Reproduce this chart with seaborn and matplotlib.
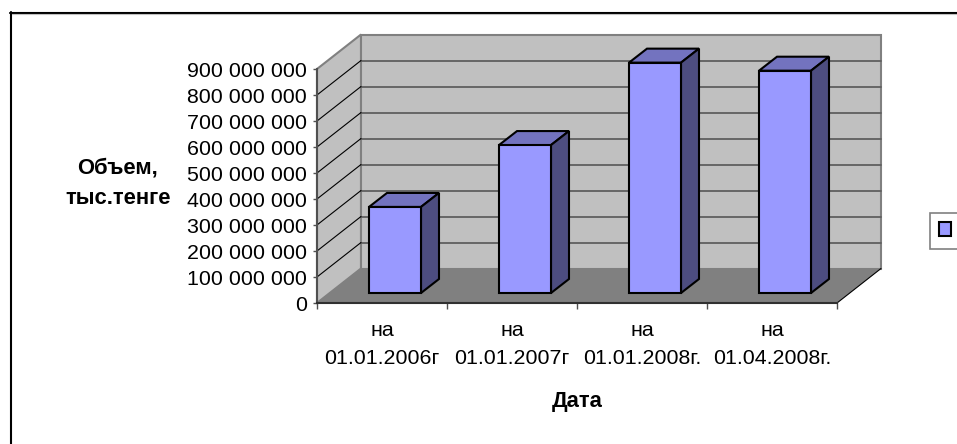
import matplotlib
matplotlib.use("Agg")
import matplotlib.pyplot as plt
import seaborn as sns
import pandas as pd
import numpy as np
from matplotlib.patches import Polygon, Patch, Rectangle
from matplotlib.lines import Line2D
from matplotlib.transforms import IdentityTransform

# ---- data ----
dates = ["на\n01.01.2006г", "на\n01.01.2007г", "на\n01.01.2008г.", "на\n01.04.2008г."]
volumes = [331e6, 569e6, 886e6, 855e6]
y_ticks = [0, 100e6, 200e6, 300e6, 400e6, 500e6, 600e6, 700e6, 800e6, 900e6]
y_tick_labels = ["0", "100 000 000", "200 000 000", "300 000 000", "400 000 000",
                 "500 000 000", "600 000 000", "700 000 000", "800 000 000", "900 000 000"]
y_title = "Объем,\nтыс.тенге"
x_title = "Дата"

# ---- style ----
W, H = 957, 444
FACE, SIDE, TOP = "#9999FF", "#4D4D80", "#7373BF"
WALL, FLOOR, EDGE, GRID = "#C0C0C0", "#808080", "#808080", "#5F5F5F"
WALL_D = np.array([44.0, 34.5])    # depth of the chart box, pixels
BAR_D = np.array([18.0, 14.0])     # depth of a bar, pixels
BAR_O = np.array([13.0, 10.0])     # bar offset from front plane, pixels

sns.set_theme(style="white")
plt.rcParams["font.family"] = ["Liberation Sans", "DejaVu Sans"]
FS = 15.4
FS_B = 15.8

fig = plt.figure(figsize=(W / 100, H / 100), dpi=100, facecolor="white")
L, R, T, B = 317, 837, 69, 303
ax = fig.add_axes([L / W, 1 - B / H, (R - L) / W, (B - T) / H])
ax.patch.set_visible(False)

df = pd.DataFrame({"date": dates, "volume": volumes})
sns.barplot(data=df, x="date", y="volume", color=FACE, saturation=1, width=0.4,
            edgecolor="black", linewidth=1.5, ax=ax, zorder=6)
ax.set_xlim(-0.5, len(dates) - 0.5)
ax.set_ylim(y_ticks[0], y_ticks[-1])
fig.canvas.draw()

ID = IdentityTransform()


def P(x, y, depth=(0, 0)):
    return ax.transData.transform((x, y)) + np.asarray(depth)


def poly(points, fc, ec="none", lw=0.0, z=1):
    ax.add_patch(Polygon(points, closed=True, fc=fc, ec=ec, lw=lw, transform=ID,
                         clip_on=False, zorder=z, joinstyle="miter"))


x0, x1 = ax.get_xlim()
ymin, ymax = ax.get_ylim()
bars = [p for p in ax.patches if isinstance(p, Rectangle)]

# side wall, back wall, floor
poly([P(x0, ymin), P(x0, ymax), P(x0, ymax, WALL_D), P(x0, ymin, WALL_D)], WALL, EDGE, 1.5, 1)
poly([P(x0, ymin, WALL_D), P(x0, ymax, WALL_D), P(x1, ymax, WALL_D), P(x1, ymin, WALL_D)], WALL, EDGE, 1.5, 1)
poly([P(x0, ymin), P(x0, ymin, WALL_D), P(x1, ymin, WALL_D), P(x1, ymin)], FLOOR, "none", 0, 2)
ax.add_line(Line2D(*zip(P(x1, ymin), P(x1, ymin, WALL_D)), color="black", lw=0.8, transform=ID,
                   clip_on=False, zorder=3))

# gridlines on back wall and side wall
for v in y_ticks[1:-1]:
    ax.add_line(Line2D(*zip(P(x0, v, WALL_D), P(x1, v, WALL_D)), color=GRID, lw=1.3, transform=ID,
                       clip_on=False, zorder=2))
    ax.add_line(Line2D(*zip(P(x0, v), P(x0, v, WALL_D)), color="black", lw=0.8, transform=ID,
                       clip_on=False, zorder=2))

# bars: shift seaborn's front faces, add depth faces
for bar in bars:
    bx, bw, bh = bar.get_x(), bar.get_width(), bar.get_height()
    a = P(bx, 0, BAR_O)
    b = P(bx + bw, bh, BAR_O)
    bar.set_transform(ID)
    bar.set_xy(a)
    bar.set_width(b[0] - a[0])
    bar.set_height(b[1] - a[1])
    bar.set_clip_on(False)
    bar.set_joinstyle("miter")
    poly([(a[0], b[1]), (b[0], b[1]), (b[0] + BAR_D[0], b[1] + BAR_D[1]),
          (a[0] + BAR_D[0], b[1] + BAR_D[1])], TOP, "black", 1.5, 5)
    poly([(b[0], a[1]), (b[0], b[1]), (b[0] + BAR_D[0], b[1] + BAR_D[1]),
          (b[0] + BAR_D[0], a[1] + BAR_D[1])], SIDE, "black", 1.5, 5)

# axes
sns.despine(ax=ax, top=True, right=True)
for s, c in (("left", "#505050"), ("bottom", "#303030")):
    ax.spines[s].set_color(c)
    ax.spines[s].set_linewidth(1.5)
    ax.spines[s].set_zorder(4)
ax.set_yticks(y_ticks)
ax.set_yticklabels(y_tick_labels, fontsize=FS, color="black")
ax.set_xticks(np.arange(len(dates) + 1) - 0.5, minor=True)
ax.set_xticks(np.arange(len(dates)))
ax.set_xticklabels(dates, fontsize=FS, color="black", linespacing=1.6)
ax.tick_params(axis="y", which="major", left=True, length=3.2, width=1, color="#505050", pad=4.0)
ax.tick_params(axis="x", which="major", bottom=False, pad=7)
ax.tick_params(axis="x", which="minor", bottom=True, length=4.5, width=1, color="#505050")

ax.set_xlabel(x_title, fontsize=FS_B, fontweight="bold", va="center", color="black")
ax.xaxis.set_label_coords(0.5, (B - 401) / (B - T))
ax.set_ylabel(y_title, fontsize=FS_B, fontweight="bold", rotation=0, ha="center", va="center",
              linespacing=1.6, color="black")
ax.yaxis.set_label_coords((118 - L) / (R - L), (B - 183) / (B - T))

# legend (series name falls outside the picture)
h = Patch(facecolor=FACE, edgecolor="black", linewidth=1.5, label=" ")
fig.legend(handles=[h], loc="upper left", bbox_to_anchor=(930 / W, 1 - 213 / H),
           fontsize=FS, handlelength=0.6, handleheight=0.6, handletextpad=3,
           borderpad=0.4, borderaxespad=0, frameon=True, fancybox=False,
           edgecolor="#808080", framealpha=1).get_frame().set_linewidth(1.2)

# picture frame (top and left only, cut by the edges)
fig.add_artist(Line2D([11 / W, 11 / W], [0, 1 - 12 / H], color="black", lw=1.5))
fig.add_artist(Line2D([10 / W, 1], [1 - 13 / H, 1 - 13 / H], color="black", lw=1.5))
fig.add_artist(Line2D([12 / W, 1], [1 - 14.5 / H, 1 - 14.5 / H], color="#C0C0C0", lw=0.8))

fig.savefig("out.png", dpi=100, facecolor="white")
